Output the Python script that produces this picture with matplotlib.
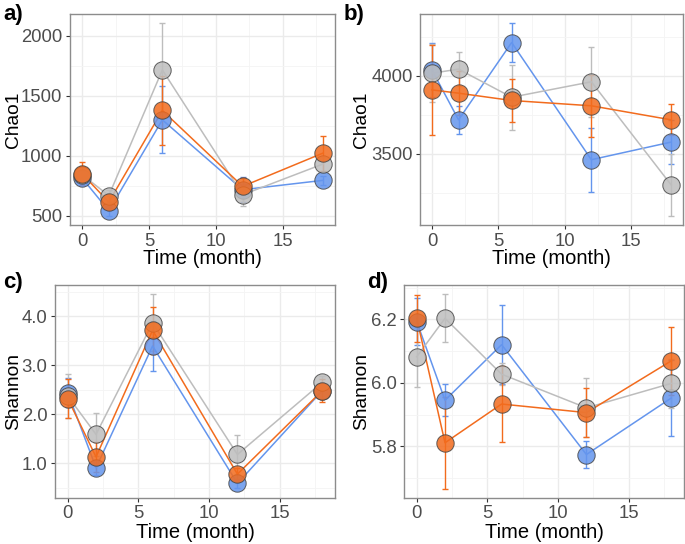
import numpy as np
import matplotlib as mpl
import matplotlib.pyplot as plt
from matplotlib.transforms import blended_transform_factory

mpl.rc('font', family=['Liberation Sans', 'DejaVu Sans'])

# time points (months)
months = [0, 2, 6, 12, 18]
groups = ['blue', 'gray', 'orange']
colors = {'blue': '#6495ED', 'gray': '#BDBDBD', 'orange': '#F26B1D'}

# a) Chao1 (16S)
chao_a = {'blue': [813, 541, 1298, 716, 794],
          'gray': [841, 667, 1714, 674, 930],
          'orange': [849, 613, 1376, 744, 1021]}
chao_a_err = {'blue': [60, 40, 280, 105, 40],
              'gray': [70, 45, 390, 90, 60],
              'orange': [97, 50, 290, 70, 145]}

# b) Chao1 (ITS)
chao_b = {'blue': [4038, 3718, 4214, 3462, 3575],
          'gray': [4017, 4043, 3863, 3962, 3301],
          'orange': [3910, 3889, 3842, 3808, 3718]}
chao_b_err = {'blue': [175, 90, 125, 205, 140],
              'gray': [185, 107, 208, 225, 200],
              'orange': [290, 143, 135, 200, 100]}

# c) Shannon (16S)
shan_c = {'blue': [2.44, 0.91, 3.39, 0.59, 2.48],
          'gray': [2.37, 1.59, 3.86, 1.18, 2.65],
          'orange': [2.32, 1.13, 3.71, 0.78, 2.48]}
shan_c_err = {'blue': [0.30, 0.15, 0.51, 0.10, 0.15],
              'gray': [0.44, 0.44, 0.58, 0.39, 0.12],
              'orange': [0.39, 0.30, 0.48, 0.12, 0.24]}

# d) Shannon (ITS)
shan_d = {'blue': [6.193, 5.945, 6.120, 5.774, 5.952],
          'gray': [6.082, 6.203, 6.027, 5.921, 5.998],
          'orange': [6.203, 5.811, 5.933, 5.906, 6.069]}
shan_d_err = {'blue': [0.073, 0.050, 0.125, 0.042, 0.120],
              'gray': [0.095, 0.076, 0.035, 0.093, 0.077],
              'orange': [0.074, 0.145, 0.120, 0.076, 0.108]}

panels = [
    ('a)', chao_a, chao_a_err, 'Chao1', (422, 2180), [500, 1000, 1500, 2000], [750, 1250, 1750], '{:.0f}',
     [70, 14, 335, 225], 22),
    ('b)', chao_b, chao_b_err, 'Chao1', (3043, 4397), [3500, 4000], [3250, 3750, 4250], '{:.0f}',
     [420, 14, 683, 225], 370),
    ('c)', shan_c, shan_c_err, 'Shannon', (0.293, 4.633), [1, 2, 3, 4], [0.5, 1.5, 2.5, 3.5, 4.5], '{:.1f}',
     [55, 285, 335, 498], 22),
    ('d)', shan_d, shan_d_err, 'Shannon', (5.637, 6.308), [5.8, 6.0, 6.2], [5.7, 5.9, 6.1, 6.3], '{:.1f}',
     [404, 285, 684, 498], 370),
]
label_pos = {'a)': (3, 4), 'b)': (344, 4), 'c)': (3, 272), 'd)': (367, 272)}

W, H = 685, 544
fig = plt.figure(figsize=(W / 100, H / 100), dpi=100)

for lab, vals, errs, ylab, ylim, yt, ymin, fmt, box, ylab_x in panels:
    l, t, r, b = box
    ax = fig.add_axes([l / W, 1 - b / H, (r - l) / W, (b - t) / H])
    ax.set_xlim(-0.9, 18.9)
    ax.set_ylim(*ylim)
    ax.set_xticks([0, 5, 10, 15])
    ax.set_xticks([2.5, 7.5, 12.5, 17.5], minor=True)
    ax.set_yticks(yt)
    ax.set_yticks(ymin, minor=True)
    ax.set_yticklabels([fmt.format(v) for v in yt])
    ax.grid(True, which='major', color='#EBEBEB', linewidth=1.0, zorder=0)
    ax.grid(True, which='minor', color='#F4F4F4', linewidth=0.6, zorder=0)
    ax.set_axisbelow(True)
    for s in ax.spines.values():
        s.set_color('#8C8C8C')
        s.set_linewidth(1.0)
    ax.tick_params(which='major', length=2.9, color='#333333', labelsize=13.3,
                   labelcolor='#4D4D4D', pad=2.5)
    ax.tick_params(which='minor', length=0)
    for g in groups:
        c = colors[g]
        ax.errorbar(months, vals[g], yerr=errs[g], fmt='none', ecolor=c,
                    elinewidth=1.0, capsize=2, capthick=1.0, zorder=2)
        ax.plot(months, vals[g], color=c, linewidth=1.1, zorder=3)
        ax.plot(months, vals[g], 'o', markersize=12.5, markerfacecolor=c,
                markeredgecolor='#444444', markeredgewidth=0.7, alpha=0.85,
                linestyle='none', zorder=4)
    ax.set_xlabel('Time (month)', fontsize=14.5, labelpad=0)
    ax.set_ylabel(ylab, fontsize=13.8)
    ax.yaxis.set_label_coords(ylab_x / W, 0.5,
                              transform=blended_transform_factory(fig.transFigure, ax.transAxes))
    lx, ly = label_pos[lab]
    fig.text(lx / W, 1 - ly / H, lab, fontsize=16, fontweight='bold', va='top', ha='left')

fig.savefig('out.png', dpi=100)
